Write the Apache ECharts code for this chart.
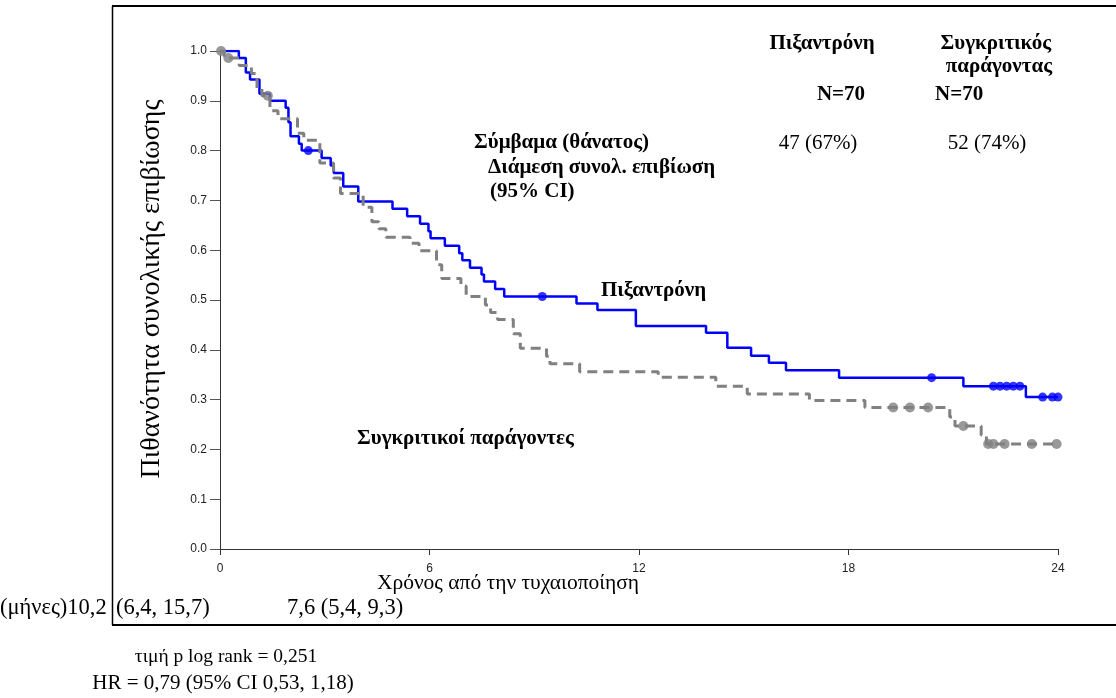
<!DOCTYPE html>
<html>
<head>
<meta charset="utf-8">
<script src="https://cdn.jsdelivr.net/npm/echarts@6/dist/echarts.min.js"></script>
<style>
html,body{margin:0;padding:0;background:#fff;}
#chart{width:1116px;height:698px;}
</style>
</head>
<body>
<div id="chart"></div>
<script>
// ---- Data ----
const xTicks = [0, 6, 12, 18, 24];
const yTicks = [0.0, 0.1, 0.2, 0.3, 0.4, 0.5, 0.6, 0.7, 0.8, 0.9, 1.0];

// Pixantrone KM curve (time in months, survival after each drop)
const pixTimes = [0, 0.54, 0.74, 0.86, 1.13, 1.43, 1.88, 1.96, 2.02, 2.26, 2.34, 2.91, 3.17, 3.26, 3.53, 3.96, 4.94, 5.36, 5.73, 5.97, 6.03, 6.44, 6.85, 6.94, 7.16, 7.49, 7.56, 7.88, 8.14, 10.21, 10.81, 11.91, 13.92, 14.53, 15.21, 15.72, 16.21, 17.73, 21.29, 23.08, 24.0];
const pixSurv  = [1.0, 0.986, 0.957, 0.943, 0.914, 0.900, 0.886, 0.857, 0.829, 0.814, 0.800, 0.785, 0.770, 0.755, 0.728, 0.698, 0.683, 0.668, 0.653, 0.638, 0.624, 0.609, 0.594, 0.580, 0.565, 0.551, 0.537, 0.522, 0.507, 0.493, 0.480, 0.448, 0.434, 0.404, 0.388, 0.374, 0.359, 0.344, 0.327, 0.305, 0.305];
const pixCensor = [2.53, 9.23, 20.38, 22.15, 22.34, 22.53, 22.72, 22.91, 23.56, 23.84, 24.0];

// Comparator KM curve
const compTimes = [0, 0.12, 0.55, 0.9, 1.06, 1.2, 1.43, 1.66, 2.22, 2.4, 2.86, 3.25, 3.45, 4.1, 4.35, 4.55, 4.75, 5.44, 5.7, 6.2, 6.35, 6.9, 7.05, 7.6, 7.75, 7.95, 8.4, 8.6, 9.35, 9.45, 10.3, 12.55, 14.2, 15.1, 16.88, 18.47, 20.9, 21.05, 21.8, 21.95, 23.96];
const compSurv  = [1.0, 0.986, 0.971, 0.955, 0.925, 0.91, 0.88, 0.864, 0.835, 0.821, 0.775, 0.745, 0.714, 0.686, 0.657, 0.643, 0.626, 0.614, 0.599, 0.571, 0.543, 0.528, 0.507, 0.49, 0.475, 0.461, 0.432, 0.403, 0.387, 0.372, 0.356, 0.345, 0.327, 0.311, 0.298, 0.284, 0.265, 0.247, 0.229, 0.211, 0.211];
const compCensor = [0.03, 0.24, 1.37, 19.28, 19.76, 20.28, 21.29, 22.0, 22.15, 22.47, 23.25, 23.96];

// ---- helpers ----
function pairs(ts, ss){ return ts.map((t,i)=>[t, ss[i]]); }
function survAt(ts, ss, t){
  let v = ss[0];
  for (let i=0;i<ts.length;i++){ if (ts[i] <= t) v = ss[i]; else break; }
  return v;
}
function censorPts(cs, ts, ss){ return cs.map(t=>[t, survAt(ts, ss, t)]); }

const SERIF = '"Liberation Serif","Times New Roman",serif';
const SANS = '"Liberation Sans Narrow","Liberation Sans",Arial,sans-serif';

function txt(x, y, s, opts){
  opts = opts || {};
  return {
    type:'text', x:x, y:y, rotation: opts.rotation || 0, z: 10,
    style:{
      text:s, fill:'#000',
      font: (opts.bold ? 'bold ' : '') + (opts.size || 17) + 'px ' + SERIF,
      textAlign: opts.align || 'left', textVerticalAlign: opts.valign || 'middle'
    }
  };
}

const chart = echarts.init(document.getElementById('chart'), null, {renderer:'canvas'});
chart.setOption({
  animation:false,
  backgroundColor:'#fff',
  grid:{left:220, right:58, top:51, bottom:149, containLabel:false},
  xAxis:{
    type:'value', min:0, max:24, interval:6,
    axisLine:{show:true, onZero:false, lineStyle:{color:'#333', width:1}},
    axisTick:{show:true, length:6, lineStyle:{color:'#333'}},
    axisLabel:{fontFamily:SANS, fontSize:12, color:'#222', margin:14,
      formatter:v=> xTicks.includes(v) ? String(v) : ''},
    splitLine:{show:false}
  },
  yAxis:{
    type:'value', min:0, max:1, interval:0.1,
    axisLine:{show:true, onZero:false, lineStyle:{color:'#333', width:1}},
    axisTick:{show:true, length:10, lineStyle:{color:'#555'}},
    axisLabel:{fontFamily:SANS, fontSize:12, color:'#222', margin:13,
      formatter:v=> v.toFixed(1)},
    splitLine:{show:false}
  },
  series:[
    {type:'line', name:'Πιξαντρόνη', step:'end', data:pairs(pixTimes, pixSurv),
     showSymbol:false, symbol:'none', lineStyle:{color:'#0000ff', width:2.5}, z:3},
    {type:'scatter', data:censorPts(pixCensor, pixTimes, pixSurv), symbol:'circle', symbolSize:9,
     itemStyle:{color:'#0000ff'}, z:4},
    {type:'line', name:'Συγκριτικοί παράγοντες', step:'end', data:pairs(compTimes, compSurv),
     showSymbol:false, symbol:'none', lineStyle:{color:'#808080', width:3, type:[10,6]}, z:5},
    {type:'scatter', data:censorPts(compCensor, compTimes, compSurv), symbol:'circle', symbolSize:10,
     itemStyle:{color:'#808080'}, z:6}
  ],
  graphic:[
    // frame
    {type:'line', shape:{x1:112, y1:6, x2:1116, y2:6}, style:{stroke:'#000', lineWidth:2}},
    {type:'line', shape:{x1:112.5, y1:6, x2:112.5, y2:625}, style:{stroke:'#000', lineWidth:1.5}},
    {type:'line', shape:{x1:112, y1:625, x2:1116, y2:625}, style:{stroke:'#000', lineWidth:2}},
    // axis titles
    txt(152, 289, 'Πιθανότητα συνολικής επιβίωσης', {size:28, rotation:Math.PI/2, align:'center'}),
    txt(508, 583, 'Χρόνος από την τυχαιοποίηση', {size:21.5, align:'center'}),
    // table
    txt(822, 44, 'Πιξαντρόνη', {bold:true, size:21, align:'center'}),
    txt(1051, 44, 'Συγκριτικός', {bold:true, size:21, align:'right'}),
    txt(1052, 67, 'παράγοντας', {bold:true, size:21, align:'right'}),
    txt(841, 95, 'N=70', {bold:true, size:21, align:'center'}),
    txt(935, 95, 'N=70', {bold:true, size:21}),
    txt(474, 143, 'Σύμβαμα (θάνατος)', {bold:true, size:21}),
    txt(818, 143, '47 (67%)', {size:21, align:'center'}),
    txt(987, 143, '52 (74%)', {size:21, align:'center'}),
    txt(488, 168, 'Διάμεση συνολ. επιβίωση', {bold:true, size:21}),
    txt(490, 192, '(95% CI)', {bold:true, size:21}),
    // curve labels
    txt(601, 291, 'Πιξαντρόνη', {bold:true, size:21}),
    txt(357, 439, 'Συγκριτικοί παράγοντες', {bold:true, size:21}),
    // bottom
    txt(0, 608, '(μήνες)10,2', {size:22.5}),
    txt(116, 608, '(6,4, 15,7)', {size:22.5}),
    txt(287, 608, '7,6 (5,4, 9,3)', {size:22.5}),
    txt(226, 657, 'τιμή p log rank = 0,251', {size:19.5, align:'center'}),
    txt(223, 683, 'HR = 0,79 (95% CI 0,53, 1,18)', {size:21, align:'center'})
  ]
});
</script>
</body>
</html>
